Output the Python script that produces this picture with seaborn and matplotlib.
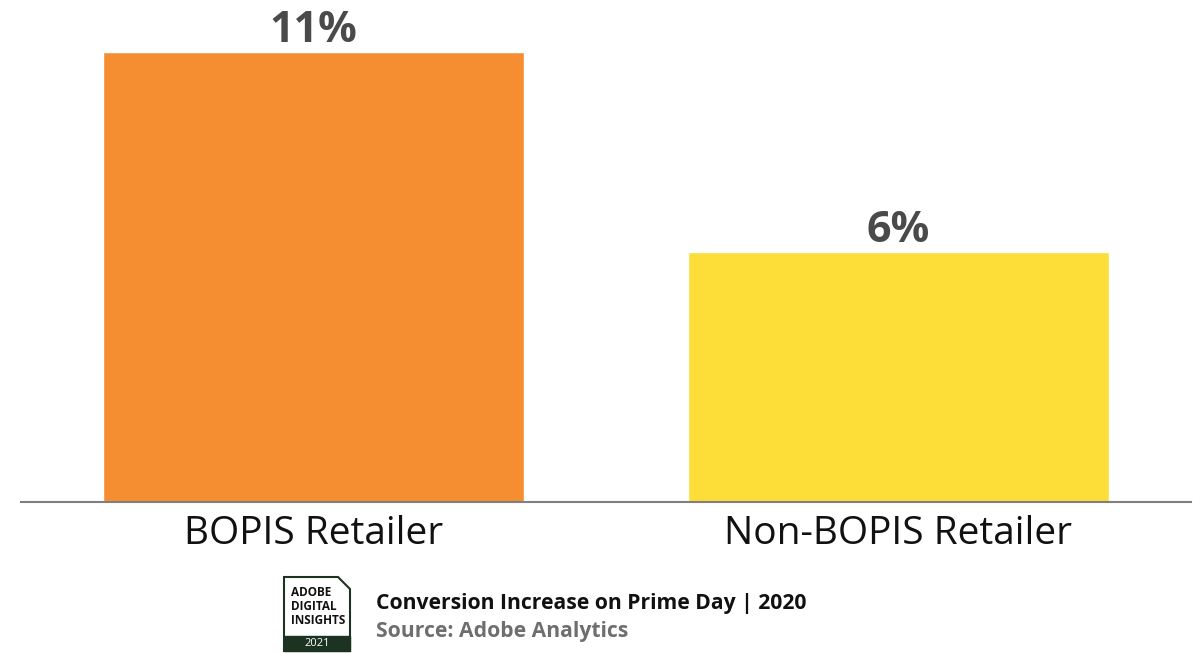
import matplotlib
matplotlib.use("Agg")
import matplotlib.pyplot as plt
import seaborn as sns
import pandas as pd
from matplotlib.patches import Polygon, Rectangle

categories = ["BOPIS Retailer", "Non-BOPIS Retailer"]
values = [11, 6.1]
value_labels = ["11%", "6%"]
colors = ["#F48E30", "#FDDD37"]

sns.set_theme(style="white")
plt.rcParams['font.family'] = ['Open Sans', 'DejaVu Sans']

W, H = 1202, 653
fig = plt.figure(figsize=(W / 100, H / 100), dpi=100)
ax = fig.add_axes([21 / W, (H - 502) / H, 1170 / W, 502 / H])

df = pd.DataFrame({"cat": categories, "val": values})
sns.barplot(data=df, x="cat", y="val", hue="cat", palette=colors, width=0.72,
            legend=False, ax=ax, saturation=1)

ax.set_xlim(-0.5, 1.5)
ax.set_ylim(0, 11 * 502 / 450)
for s in ["top", "right", "left"]:
    ax.spines[s].set_visible(False)
ax.spines["bottom"].set_color("#7f7f7f")
ax.spines["bottom"].set_linewidth(1.5)
ax.set_yticks([])
ax.set_xlabel("")
ax.set_ylabel("")
ax.tick_params(axis="x", length=0, pad=9, labelsize=28, labelcolor="#111111")

for i, (v, lab) in enumerate(zip(values, value_labels)):
    ax.annotate(lab, (i, v), xytext=(0, 0), textcoords="offset points",
                ha="center", va="bottom", fontsize=31, fontweight="bold",
                color="#4a4a4a")

# Footer badge
def fx(x): return x / W
def fy(y): return 1 - y / H

green = "#1c3322"
badge = Polygon([(fx(284), fy(577)), (fx(338), fy(577)), (fx(350), fy(589)),
                 (fx(350), fy(651)), (fx(284), fy(651))], closed=True,
                facecolor="white", edgecolor=green, linewidth=1.5,
                transform=fig.transFigure)
fig.patches.append(badge)
band = Rectangle((fx(284), fy(651)), (350 - 284) / W, 15 / H,
                 facecolor=green, edgecolor=green, transform=fig.transFigure)
fig.patches.append(band)
for yy, t in [(593, "ADOBE"), (607, "DIGITAL"), (621, "INSIGHTS")]:
    fig.text(fx(291), fy(yy), t, fontsize=8.5, fontweight="bold",
             color="#111111", va="center", ha="left")
fig.text(fx(317), fy(643.5), "2021", fontsize=8, color="white",
         va="center", ha="center")

fig.text(fx(376), fy(603), "Conversion Increase on Prime Day | 2020",
         fontsize=15.2, fontweight="bold", color="#111111", va="center", ha="left")
fig.text(fx(376), fy(632), "Source: Adobe Analytics",
         fontsize=15.2, fontweight="bold", color="#6e6e6e", va="center", ha="left")

fig.savefig("out.png", dpi=100)
